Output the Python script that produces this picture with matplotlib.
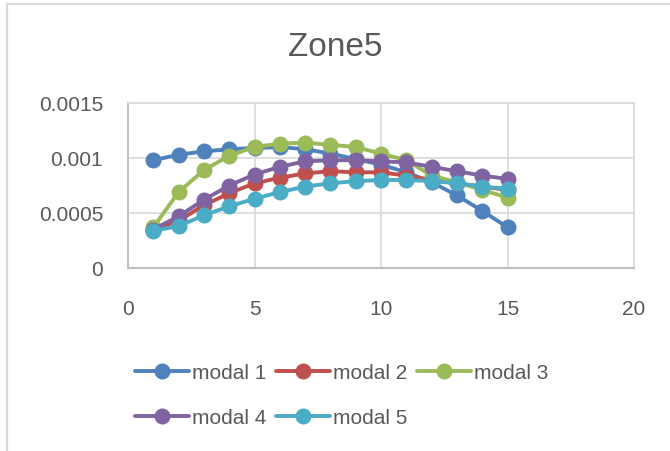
import matplotlib
matplotlib.use("Agg")
import matplotlib.pyplot as plt
from matplotlib.patches import Rectangle

# Data
x = list(range(1, 16))
modal_1 = [0.00098, 0.00103, 0.00106, 0.00108, 0.00109, 0.00110, 0.00108, 0.00104,
           0.00099, 0.00094, 0.00087, 0.00078, 0.00066, 0.00052, 0.00037]
modal_2 = [0.00035, 0.00043, 0.00057, 0.00068, 0.00077, 0.00082, 0.00086, 0.00088,
           0.00087, 0.00087, 0.00084, 0.00080, 0.00077, 0.00074, 0.00071]
modal_3 = [0.00037, 0.00069, 0.00089, 0.00102, 0.00110, 0.00113, 0.00114, 0.00112,
           0.00110, 0.00104, 0.00098, 0.00084, 0.00078, 0.00071, 0.00064]
modal_4 = [0.00035, 0.00047, 0.00062, 0.00075, 0.00085, 0.00092, 0.00097, 0.00098,
           0.00098, 0.00097, 0.00096, 0.00092, 0.00088, 0.00084, 0.00081]
modal_5 = [0.00034, 0.00038, 0.00048, 0.00056, 0.00063, 0.00069, 0.00074, 0.00077,
           0.00079, 0.00080, 0.00080, 0.00079, 0.00077, 0.00074, 0.00072]

series = [modal_1, modal_2, modal_3, modal_4, modal_5]
labels = ["modal 1", "modal 2", "modal 3", "modal 4", "modal 5"]
colors = ["#4F81BD", "#C0504D", "#9BBB59", "#8064A2", "#4BACC6"]

x_ticks = [0, 5, 10, 15, 20]
y_ticks = [0, 0.0005, 0.001, 0.0015]
y_tick_labels = ["0", "0.0005", "0.001", "0.0015"]

text_color = "#595959"
plt.rcParams["font.family"] = ["Liberation Sans", "DejaVu Sans"]

W, H = 670, 452
fig = plt.figure(figsize=(W / 100, H / 100), dpi=100)

# chart-area border
fig.patches.append(Rectangle((7 / W, -0.1), 1.2, 1 - 5 / H + 0.1,
                             transform=fig.transFigure, fill=False,
                             edgecolor="#D9D9D9", linewidth=1.6))

ax = fig.add_axes([128 / W, 1 - 269 / H, (634 - 128) / W, (269 - 104) / H])

for vals, lab, col in zip(series, labels, colors):
    ax.plot(x, vals, color=col, linewidth=2.8, marker="o", markersize=10.5,
            markeredgecolor=col, markerfacecolor=col, label=lab,
            solid_capstyle="round")

ax.set_xlim(0, 20)
ax.set_ylim(0, 0.0015)
ax.set_xticks(x_ticks)
ax.set_yticks(y_ticks)
ax.set_yticklabels(y_tick_labels)
ax.grid(True, color="#D9D9D9", linewidth=1.2)
ax.set_axisbelow(True)
ax.tick_params(length=0, labelsize=15, colors=text_color)
ax.tick_params(axis="y", pad=18)
ax.tick_params(axis="x", pad=22)
for side in ["top", "right"]:
    ax.spines[side].set_color("#D9D9D9")
    ax.spines[side].set_linewidth(1.2)
for side in ["left", "bottom"]:
    ax.spines[side].set_color("#BFBFBF")
    ax.spines[side].set_linewidth(1.5)

fig.text(335 / W, 1 - 47 / H, "Zone5", ha="center", va="center",
         fontsize=24, color=text_color)

handles, labs = ax.get_legend_handles_labels()
order = [0, 3, 1, 4, 2]
leg = fig.legend([handles[i] for i in order], [labs[i] for i in order],
                 loc="upper left", bbox_to_anchor=(135 / W, 1 - 364 / H),
                 ncol=3, frameon=False, fontsize=15, handlelength=2.6,
                 handletextpad=0.15, columnspacing=0.45, labelspacing=1.25,
                 borderpad=0, borderaxespad=0)
for t in leg.get_texts():
    t.set_color(text_color)

fig.savefig("out.png", dpi=100)
